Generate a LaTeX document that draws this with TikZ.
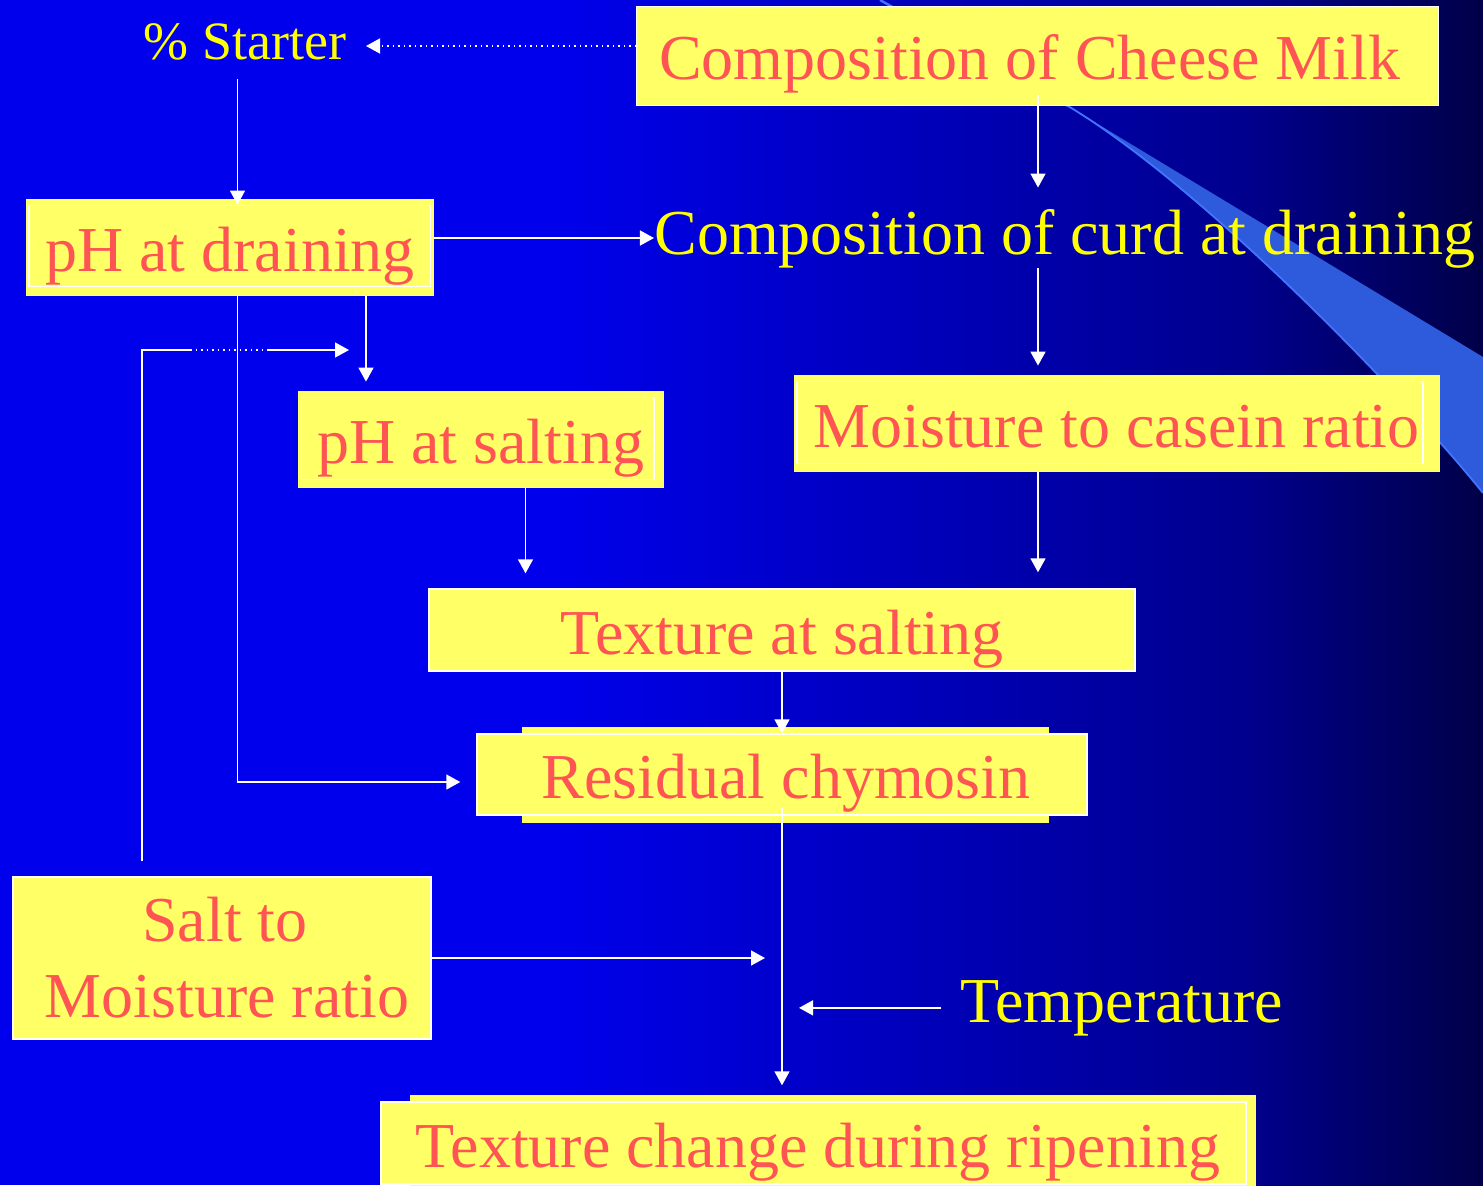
\documentclass[tikz,border=0pt]{standalone}
\usepackage{fontspec}
\setmainfont{Liberation Serif}
\usetikzlibrary{arrows.meta,calc}
\definecolor{bgleft}{RGB}{0,0,236}
\definecolor{bgmid}{RGB}{0,0,140}
\definecolor{bgright}{RGB}{0,0,72}
\definecolor{swoosh}{RGB}{46,90,220}
\definecolor{swooshedge}{RGB}{66,116,255}
\definecolor{boxyellow}{RGB}{255,255,102}
\definecolor{salmon}{RGB}{255,84,84}
\definecolor{txtyellow}{RGB}{255,255,0}
\begin{document}
\begin{tikzpicture}[x=0.5pt,y=-0.5pt,
  bigfont/.style={font=\fontsize{32}{38}\selectfont},
  boxbase/.style={fill=boxyellow, text=salmon, bigfont, inner sep=0pt},
  box/.style={boxbase, text height=24pt, text depth=0pt},
  wbox/.style={box, draw=white, line width=0.7pt},
  plain/.style={text=txtyellow, inner sep=0pt, anchor=base},
  innerframe/.style={draw=white, line width=0.7pt},
  arr/.style={draw=white, line width=0.75pt, -{Triangle[length=7pt,width=7.5pt]}},
  wline/.style={draw=white, line width=0.75pt},
  dotarr/.style={arr, dotted},
]
% background
\fill[bgleft] (0,0) rectangle (552,1185);
\shade[left color=bgleft, right color=bgmid] (550,0) rectangle (1252,1185);
\shade[left color=bgmid, right color=bgright] (1250,0) rectangle (1483,1185);
\useasboundingbox (0,0) rectangle (1483,1185);
% swoosh
\draw[swooshedge, line width=1.2pt] (880,0) -- (1068,106);
\fill[swoosh] (1068,106) -- (1483,357) -- (1483,493)
  .. controls (1400,390) and (1200,185) .. (1068,106) -- cycle;
\draw[swooshedge, line width=0.9pt] (1068,106) .. controls (1200,185) and (1400,390) .. (1483,493);

% columns and rows
\coordinate (xA) at (237.5,0);
\coordinate (xB) at (366,0);
\coordinate (xC) at (525.5,0);
\coordinate (xD) at (1038,0);
\coordinate (xE) at (782,0);
\coordinate (xF) at (142,0);
\coordinate (yR) at (0,238);
\coordinate (yS) at (0,782);
\coordinate (yF) at (0,350);
\coordinate (stIn) at (366,46);
\coordinate (dotA) at (190,350);
\coordinate (dotB) at (269,350);

% nodes
\node[wbox, minimum width=401pt, minimum height=49.5pt] (milk) at (1037.75,55.8) {\hspace*{-8pt}Composition of Cheese Milk};
\node[plain, font=\fontsize{27}{32}\selectfont] (starter) at (245,59) {\% Starter};
\node[box, minimum width=204pt, minimum height=48.5pt] (ph1) at (230,247.5) {pH at draining};
\draw[innerframe] ([shift={(1.75pt,-3.5pt)}]ph1.north west) rectangle ([shift={(-2pt,5pt)}]ph1.south east);
\node[plain, font=\fontsize{32}{38}\selectfont] (curd) at (1065,254) {Composition of curd at draining};
\node[box, minimum width=323pt, minimum height=48.5pt] (moist) at (1116.5,423.5) {Moisture to casein ratio};
\draw[innerframe] ([shift={(2pt,-3.5pt)}]moist.north west) rectangle ([shift={(-8.5pt,4.5pt)}]moist.south east);
\node[box, minimum width=183pt, minimum height=48.5pt] (ph2) at (480.75,439.5) {pH at salting};
\draw[innerframe] ([shift={(2pt,-3.5pt)}]ph2.north west) rectangle ([shift={(-5pt,4.5pt)}]ph2.south east);
\node[wbox, minimum width=353pt, minimum height=41pt] (tex1) at (782,630) {Texture at salting};
\fill[boxyellow] (522,727) rectangle (1049,823);
\node[wbox, minimum width=305pt, minimum height=40.5pt] (resid) at (782,774.5) {\hspace*{4pt}Residual chymosin};
\node[boxbase, draw=white, line width=0.7pt, align=center, minimum width=209pt, minimum height=81pt] (salt) at (222,958) {\hspace*{3pt}Salt to\\\hspace*{5pt}Moisture ratio};
\node[plain, font=\fontsize{32}{38}\selectfont] (temp) at (1122,1022) {Temperature};
\fill[boxyellow] (410,1095) rectangle (1256,1190);
\node[wbox, minimum width=432.5pt, minimum height=41pt] (ripen) at (813.5,1143) {\hspace*{4.5pt}Texture change during ripening};

% connectors
\draw[dotarr] (milk.west |- stIn) -- (stIn);
\draw[arr, shorten <=9.5pt, shorten >=-3pt] (xA |- starter.south) -- (xA |- ph1.north);
\draw[arr] (ph1.east |- yR) -- (curd.west |- yR);
\draw[arr, shorten <=-5.5pt, shorten >=10.5pt] (xD |- milk.south) -- (xD |- curd.north);
\draw[arr, shorten >=4.5pt] (xD |- curd.south) -- (xD |- moist.north);
\draw[arr, shorten >=8pt] (xD |- moist.south) -- (xD |- tex1.north);
\draw[arr, shorten >=4.5pt] (xB |- ph1.south) -- (xB |- ph2.north);
\draw[arr, shorten >=8pt] (xA |- ph1.south) |- (resid.west |- yS);
\draw[arr, shorten >=7.5pt] (xC |- ph2.south) -- (xC |- tex1.north);
\draw[arr] (xE |- tex1.south) -- (xE |- resid.north);
\draw[arr, shorten <=-4pt, shorten >=8pt] (xE |- resid.south) -- (xE |- ripen.north);
\draw[arr, shorten >=8.5pt] (salt.east) -- (xE |- salt.east);
\draw[arr, shorten <=9.5pt, shorten >=8.5pt] (temp.west) -- (xE |- temp.west);
\draw[wline, shorten <=7.5pt] (xF |- salt.north) |- (dotA);
\draw[wline, dotted] (dotA) -- (dotB);
\draw[arr, shorten >=8.5pt] (dotB) -- (xB |- yF);
\end{tikzpicture}
\end{document}
